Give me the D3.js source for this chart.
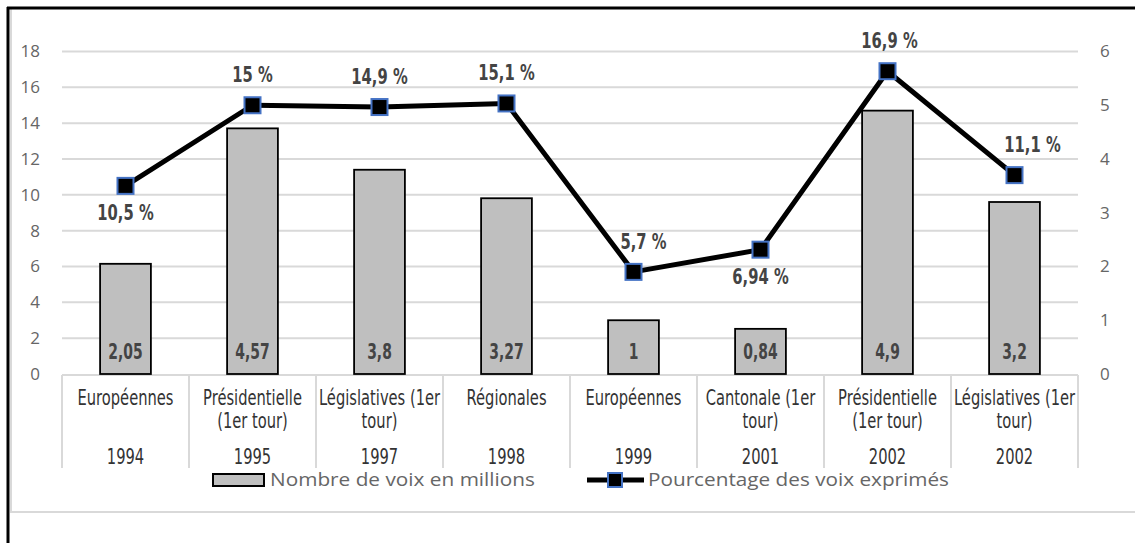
<!DOCTYPE html>
<html>
<head>
<meta charset="utf-8">
<script src="https://cdn.jsdelivr.net/npm/d3@7"></script>
<style>
  body { margin: 0; background: #fff; }
  svg { display: block; }
  .tick-lbl { font-family: "Open Sans", "Noto Sans", sans-serif; font-size: 17px; fill: #666; }
  .cat { font-family: "DejaVu Sans", sans-serif; font-size: 21px; fill: #333; }
  .dlbl { font-family: "DejaVu Sans", sans-serif; font-weight: bold; font-size: 20.5px; fill: #444; }
  .leg { font-family: "Open Sans", "Noto Sans", sans-serif; font-size: 18px; fill: #666; }
</style>
</head>
<body>
<svg></svg>
<script>
// categories (two lines of label + year)
var elections = [["Européennes"], ["Présidentielle", "(1er tour)"], ["Législatives (1er", "tour)"], ["Régionales"],
                 ["Européennes"], ["Cantonale (1er", "tour)"], ["Présidentielle", "(1er tour)"], ["Législatives (1er", "tour)"]];
var years = ["1994", "1995", "1997", "1998", "1999", "2001", "2002", "2002"];

// votes in millions (right axis) and percent of votes (left axis)
var votes = [2.05, 4.57, 3.8, 3.27, 1, 0.84, 4.9, 3.2];
var votesText = ["2,05", "4,57", "3,8", "3,27", "1", "0,84", "4,9", "3,2"];
var percent = [10.5, 15, 14.9, 15.1, 5.7, 6.94, 16.9, 11.1];
var percentText = ["10,5 %", "15 %", "14,9 %", "15,1 %", "5,7 %", "6,94 %", "16,9 %", "11,1 %"];
var labelSide = ["below", "above", "above", "above", "above", "below", "above", "above"];

var leftTicks = [0, 2, 4, 6, 8, 10, 12, 14, 16, 18];
var rightTicks = [0, 1, 2, 3, 4, 5, 6];

var width = 1135, height = 543;
var svg = d3.select("svg").attr("width", width).attr("height", height);

var plotLeft = 62, plotRight = 1078, plotTop = 51.5, plotBottom = 374;

// label nudges seen in the original (index -> px to the right)
var labelNudge = {4: 10, 6: 2, 7: 18};

var xScale = d3.scaleBand()
    .domain(d3.range(elections.length))
    .range([plotLeft, plotRight])
    .paddingInner(0).paddingOuter(0);

var yLeft = d3.scaleLinear().domain([0, 18]).range([plotBottom, plotTop]);
var yRight = d3.scaleLinear().domain([0, 6]).range([plotBottom, plotTop]);

// squeeze text horizontally to mimic the condensed font
function condensed(sel, x, y, k) {
    return sel.attr("transform", "translate(" + x + "," + y + ") scale(" + k + ",1)")
              .attr("text-anchor", "middle");
}

// frame
svg.append("line").attr("x1", 11).attr("x2", 11).attr("y1", 9).attr("y2", 512)
   .attr("stroke", "#d9d9d9").attr("stroke-width", 2);
svg.append("line").attr("x1", 10).attr("x2", width).attr("y1", 512).attr("y2", 512)
   .attr("stroke", "#d9d9d9").attr("stroke-width", 2);
svg.append("line").attr("x1", 7).attr("x2", width).attr("y1", 8).attr("y2", 8)
   .attr("stroke", "#000").attr("stroke-width", 3);
svg.append("line").attr("x1", 8).attr("x2", 8).attr("y1", 7).attr("y2", height)
   .attr("stroke", "#000").attr("stroke-width", 3);

// gridlines
svg.append("g").selectAll("line").data(leftTicks.filter(d => d > 0)).enter().append("line")
   .attr("x1", plotLeft).attr("x2", plotRight)
   .attr("y1", d => yLeft(d)).attr("y2", d => yLeft(d))
   .attr("stroke", "#d9d9d9").attr("stroke-width", 2);

// left axis labels
svg.append("g").selectAll("text").data(leftTicks).enter().append("text")
   .attr("class", "tick-lbl")
   .attr("x", 40).attr("y", d => yLeft(d)).attr("dy", "0.35em")
   .attr("text-anchor", "end").text(d => d);

// right axis labels
svg.append("g").selectAll("text").data(rightTicks).enter().append("text")
   .attr("class", "tick-lbl")
   .attr("x", 1100).attr("y", d => yRight(d)).attr("dy", "0.35em")
   .attr("text-anchor", "start").text(d => d);

// category table
var catG = svg.append("g");
catG.append("line").attr("x1", plotLeft).attr("x2", plotRight).attr("y1", plotBottom + 1).attr("y2", plotBottom + 1)
    .attr("stroke", "#d9d9d9").attr("stroke-width", 2);
catG.selectAll(".sep").data(d3.range(elections.length + 1)).enter().append("line")
    .attr("class", "sep")
    .attr("x1", d => plotLeft + d * xScale.bandwidth()).attr("x2", d => plotLeft + d * xScale.bandwidth())
    .attr("y1", plotBottom + 1).attr("y2", 468)
    .attr("stroke", "#d9d9d9").attr("stroke-width", 2);

elections.forEach(function(lines, i) {
    var cx = xScale(i) + xScale.bandwidth() / 2;
    lines.forEach(function(t, j) {
        condensed(catG.append("text").attr("class", "cat"), cx, 405 + j * 23, 0.7).text(t);
    });
    condensed(catG.append("text").attr("class", "cat"), cx, 464, 0.7).text(years[i]);
});

// bars (right axis)
var barW = xScale.bandwidth() * 0.4;
svg.append("g").selectAll("rect").data(votes).enter().append("rect")
   .attr("x", (d, i) => xScale(i) + (xScale.bandwidth() - barW) / 2)
   .attr("y", d => yRight(d))
   .attr("width", barW)
   .attr("height", d => plotBottom - yRight(d))
   .attr("fill", "#bfbfbf").attr("stroke", "#000").attr("stroke-width", 1.8);

var vl = svg.append("g");
votesText.forEach(function(t, i) {
    condensed(vl.append("text").attr("class", "dlbl"), xScale(i) + xScale.bandwidth() / 2, 359, 0.68).text(t);
});

// line (left axis)
var line = d3.line()
    .x((d, i) => xScale(i) + xScale.bandwidth() / 2)
    .y(d => yLeft(d));

svg.append("path").datum(percent)
   .attr("d", line).attr("fill", "none")
   .attr("stroke", "#000").attr("stroke-width", 5).attr("stroke-linejoin", "round");

svg.append("g").selectAll("rect").data(percent).enter().append("rect")
   .attr("x", (d, i) => xScale(i) + xScale.bandwidth() / 2 - 8)
   .attr("y", d => yLeft(d) - 8)
   .attr("width", 16).attr("height", 16)
   .attr("fill", "#000").attr("stroke", "#4472c4").attr("stroke-width", 2);

var pl = svg.append("g");
percentText.forEach(function(t, i) {
    var y = yLeft(percent[i]) + (labelSide[i] === "above" ? -23 : 34);
    var x = xScale(i) + xScale.bandwidth() / 2 + (labelNudge[i] || 0);
    condensed(pl.append("text").attr("class", "dlbl"), x, y, 0.72).text(t);
});

// legend
var leg = svg.append("g");
leg.append("rect").attr("x", 213).attr("y", 474).attr("width", 51).attr("height", 12)
   .attr("fill", "#bfbfbf").attr("stroke", "#000").attr("stroke-width", 2);
leg.append("text").attr("class", "leg").attr("x", 270).attr("y", 486)
   .attr("textLength", 265).attr("lengthAdjust", "spacingAndGlyphs").text("Nombre de voix en millions");
leg.append("line").attr("x1", 587).attr("x2", 644).attr("y1", 480).attr("y2", 480)
   .attr("stroke", "#000").attr("stroke-width", 5);
leg.append("rect").attr("x", 608).attr("y", 473).attr("width", 14).attr("height", 14)
   .attr("fill", "#000").attr("stroke", "#4472c4").attr("stroke-width", 2);
leg.append("text").attr("class", "leg").attr("x", 648).attr("y", 486)
   .attr("textLength", 301).attr("lengthAdjust", "spacingAndGlyphs").text("Pourcentage des voix exprimés");
</script>
</body>
</html>
